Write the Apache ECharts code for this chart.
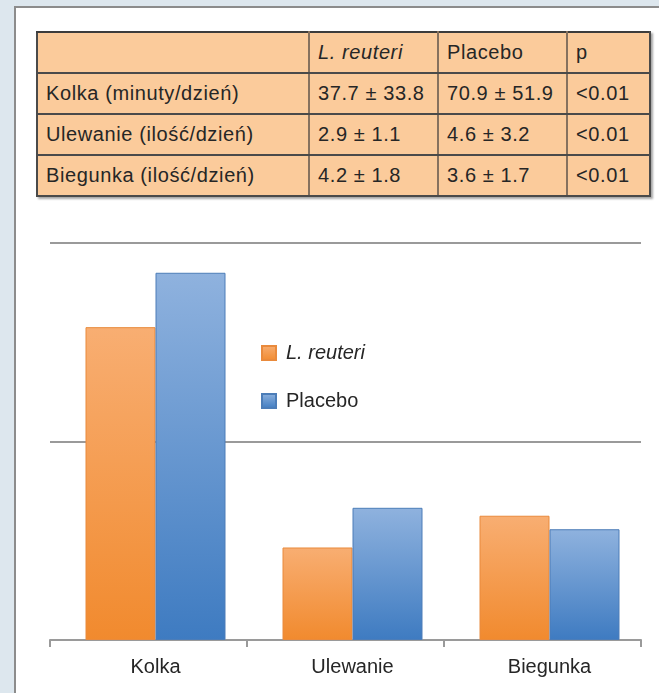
<!DOCTYPE html>
<html>
<head>
<meta charset="utf-8">
<script src="https://cdn.jsdelivr.net/npm/echarts@6/dist/echarts.min.js"></script>
<style>
  html, body { margin:0; padding:0; width:659px; height:693px; overflow:hidden; background:#dde7ee; }
  #panel { position:absolute; left:14px; top:6px; width:700px; height:720px; background:#fff;
           border-left:2px solid #8c8c8c; border-top:2px solid #8c8c8c; box-sizing:border-box; }
  #tbl { position:absolute; left:36px; top:31px; border-collapse:collapse; table-layout:fixed;
         font-family:"Liberation Sans", Arial, sans-serif; font-size:20px; letter-spacing:0.6px; color:#262626;
         background:#fbcb9b; box-shadow:2px 2px 2px rgba(0,0,0,0.35); }
  #tbl td { height:41px; padding:0 0 0 8px; border-top:2px solid #4a4a4a; border-bottom:2px solid #4a4a4a;
            border-left:2px solid #86715e; border-right:2px solid #86715e; white-space:nowrap; overflow:hidden; box-sizing:border-box; }
  #tbl tr:first-child td { border-top:2px solid #3c3c3c; }
  #tbl td:first-child { border-left:2px solid #4a4a4a; }
  #tbl td:last-child { border-right:2px solid #4a4a4a; }
  #chart { position:absolute; left:0; top:0; width:659px; height:693px; }
</style>
</head>
<body>
<div id="panel"></div>
<table id="tbl"><colgroup><col style="width:272px"><col style="width:129px"><col style="width:129px"><col style="width:83px"></colgroup><tbody></tbody></table>
<div id="chart"></div>
<script>
// ---- table data ----
const tableHeader = ['', 'L. reuteri', 'Placebo', 'p'];
const tableRowLabels = ['Kolka (minuty/dzień)', 'Ulewanie (ilość/dzień)', 'Biegunka (ilość/dzień)'];
const reuteriStats = ['37.7 ± 33.8', '2.9 ± 1.1', '4.2 ± 1.8'];
const placeboStats = ['70.9 ± 51.9', '4.6 ± 3.2', '3.6 ± 1.7'];
const pValues = ['<0.01', '<0.01', '<0.01'];

// ---- chart data (bar heights, arbitrary units) ----
const categories = ['Kolka', 'Ulewanie', 'Biegunka'];
const reuteriValues = [78.8, 23.3, 31.3];
const placeboValues = [92.5, 33.3, 27.9];
const seriesNames = ['L. reuteri', 'Placebo'];

// build table
const tbody = document.querySelector('#tbl tbody');
function addRow(cells, italicIdx) {
  const tr = document.createElement('tr');
  cells.forEach((c, i) => {
    const td = document.createElement('td');
    td.textContent = c;
    if (i === italicIdx) td.style.fontStyle = 'italic';
    tr.appendChild(td);
  });
  tbody.appendChild(tr);
}
addRow(tableHeader, 1);
tableRowLabels.forEach((lab, i) => addRow([lab, reuteriStats[i], placeboStats[i], pValues[i]], -1));

const chart = echarts.init(document.getElementById('chart'), null, { renderer: 'canvas' });
const font = '"Liberation Sans", Arial, sans-serif';
const lineColor = '#9a9a9a';

function grad(top, bottom) {
  return new echarts.graphic.LinearGradient(0, 0, 0, 1, [
    { offset: 0, color: top }, { offset: 1, color: bottom }
  ]);
}

chart.setOption({
  animation: false,
  backgroundColor: 'transparent',
  textStyle: { fontFamily: font },
  grid: [
    { left: 50, right: 18, top: 243, bottom: 53 },
    { left: 57, right: 11, top: 243, bottom: 53 }
  ],
  legend: {
    orient: 'vertical',
    left: 261, top: 343, padding: 0,
    itemWidth: 14, itemHeight: 14, itemGap: 28,
    icon: 'rect',
    textStyle: { fontFamily: font, fontSize: 20, color: '#262626', lineHeight: 18, padding: [0, 0, 0, 5] },
    data: [
      { name: seriesNames[0], textStyle: { fontStyle: 'italic' } },
      { name: seriesNames[1] }
    ]
  },
  xAxis: [
    {
      gridIndex: 0, type: 'category', data: categories,
      axisLine: { show: true, lineStyle: { color: lineColor, width: 2 } },
      axisTick: { show: true, length: 7, inside: false, lineStyle: { color: lineColor, width: 2 } },
      axisLabel: { show: false },
      splitLine: { show: false }
    },
    {
      gridIndex: 1, type: 'category', data: categories,
      axisLine: { show: false }, axisTick: { show: false },
      axisLabel: { show: true, margin: 17, fontSize: 20, color: '#262626', fontFamily: font },
      splitLine: { show: false }
    }
  ],
  yAxis: [
    {
      gridIndex: 0, type: 'value', min: 0, max: 100, interval: 50,
      axisLine: { show: false }, axisTick: { show: false }, axisLabel: { show: false },
      splitLine: { show: true, lineStyle: { color: lineColor, width: 2 } }
    },
    {
      gridIndex: 1, type: 'value', min: 0, max: 100, interval: 50,
      axisLine: { show: false }, axisTick: { show: false }, axisLabel: { show: false },
      splitLine: { show: false }
    }
  ],
  series: [
    {
      name: seriesNames[0], type: 'bar', xAxisIndex: 1, yAxisIndex: 1,
      data: reuteriValues, barWidth: 70, barGap: '0%',
      itemStyle: { color: grad('#f8ae72', '#f18a2e'), borderColor: '#e98a3c', borderWidth: 1 }
    },
    {
      name: seriesNames[1], type: 'bar', xAxisIndex: 1, yAxisIndex: 1,
      data: placeboValues, barWidth: 70, barGap: '0%',
      itemStyle: { color: grad('#8fb2de', '#3e7bc1'), borderColor: '#4c7db8', borderWidth: 1 }
    }
  ]
});
</script>
</body>
</html>
